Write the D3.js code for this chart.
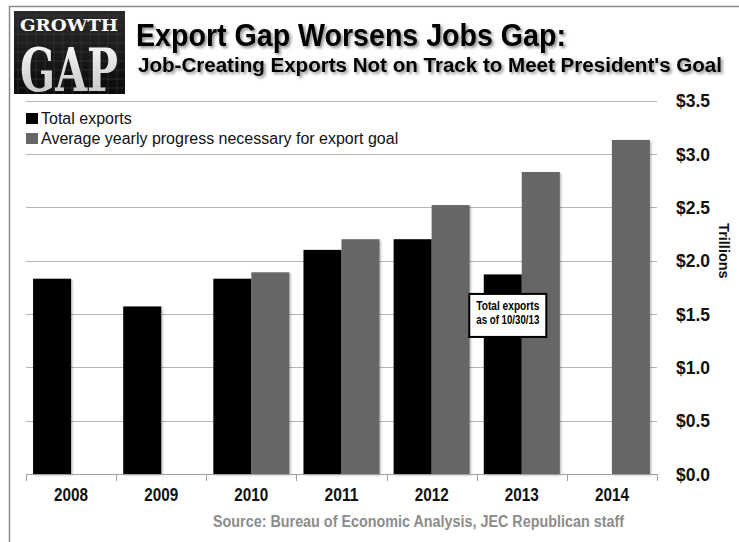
<!DOCTYPE html>
<html><head><meta charset="utf-8">
<script src="https://cdn.jsdelivr.net/npm/d3@7/dist/d3.min.js"></script>
<style>html,body{margin:0;padding:0;background:#fff}</style>
</head><body><svg id="c" width="739" height="542"></svg>
<script>
// ---- data ----
const years = ["2008","2009","2010","2011","2012","2013","2014"];
const totalExports = [1.83, 1.57, 1.83, 2.10, 2.20, 1.87, null];
const goalProgress = [null, null, 1.89, 2.20, 2.52, 2.83, 3.13];
const seriesNames = ["Total exports", "Average yearly progress necessary for export goal"];
const yTicks = [0, 0.5, 1, 1.5, 2, 2.5, 3, 3.5];
const yTickLabels = ["$0.0","$0.5","$1.0","$1.5","$2.0","$2.5","$3.0","$3.5"];
const yAxisTitle = "Trillions";
const titleText = "Export Gap Worsens Jobs Gap:";
const subtitleText = "Job-Creating Exports Not on Track to Meet President's Goal";
const sourceText = "Source: Bureau of Economic Analysis, JEC Republican staff";
const annotationLines = ["Total exports", "as of 10/30/13"];
const annotationYear = "2013";
const annotationValue = 1.5;
const logoTop = "GROWTH", logoBottom = "GAP";

// ---- setup ----
const W = 739, H = 542;
const svg = d3.select("#c");
const colors = {total: "#000000", goal: "#666666"};
const sans = "'Liberation Sans',Arial,sans-serif";

const defs = svg.append("defs");
const sh = defs.append("filter").attr("id","barShadow").attr("x","-10%").attr("y","-10%").attr("width","130%").attr("height","130%");
sh.append("feDropShadow").attr("dx",1.2).attr("dy",1.2).attr("stdDeviation",0.8).attr("flood-color","#000").attr("flood-opacity",0.3);
const tsh = defs.append("filter").attr("id","textShadow").attr("x","-5%").attr("y","-20%").attr("width","115%").attr("height","160%");
tsh.append("feDropShadow").attr("dx",2).attr("dy",2).attr("stdDeviation",1.5).attr("flood-color","#000").attr("flood-opacity",0.45);
const lg = defs.append("linearGradient").attr("id","logoBg").attr("x1",0).attr("y1",0).attr("x2",0).attr("y2",1);
lg.append("stop").attr("offset","0%").attr("stop-color","#2a2a2a");
lg.append("stop").attr("offset","100%").attr("stop-color","#0a0a0a");
const gg = defs.append("linearGradient").attr("id","gapGrad").attr("x1",0).attr("y1",0).attr("x2",0).attr("y2",1);
gg.append("stop").attr("offset","0%").attr("stop-color","#ffffff");
gg.append("stop").attr("offset","100%").attr("stop-color","#bdbdbd");

// outer frame
svg.append("line").attr("x1",9).attr("x2",W).attr("y1",6.5).attr("y2",6.5).attr("stroke","#8a8a8a").attr("stroke-width",1.5);
svg.append("line").attr("x1",9.5).attr("x2",9.5).attr("y1",6).attr("y2",H).attr("stroke","#8a8a8a").attr("stroke-width",1.5);

// logo
const logo = svg.append("g");
logo.append("rect").attr("x",14).attr("y",11).attr("width",111).attr("height",83).attr("fill","url(#logoBg)");
const gridX = d3.range(18, 125, 9), gridY = d3.range(16, 94, 9);
logo.selectAll(".gx").data(gridX).join("line").attr("x1",d=>d).attr("x2",d=>d).attr("y1",11).attr("y2",94).attr("stroke","#3a3a3a").attr("stroke-width",0.6);
logo.selectAll(".gy").data(gridY).join("line").attr("y1",d=>d).attr("y2",d=>d).attr("x1",14).attr("x2",125).attr("stroke","#3a3a3a").attr("stroke-width",0.6);
logo.append("text").attr("x",20).attr("y",30.5).text(logoTop)
  .attr("font-family","'DejaVu Serif',serif").attr("font-weight","bold").attr("font-size",17)
  .attr("fill","#fff").attr("textLength",98).attr("lengthAdjust","spacingAndGlyphs");
logo.append("text").attr("x",20).attr("y",91).text(logoBottom)
  .attr("font-family","'DejaVu Serif Condensed','DejaVu Serif',serif").attr("font-weight","bold").attr("font-size",59)
  .attr("fill","url(#gapGrad)").attr("textLength",98).attr("lengthAdjust","spacingAndGlyphs");

// titles
svg.append("text").attr("x",136).attr("y",46).text(titleText)
  .attr("font-family",sans).attr("font-weight","bold").attr("font-size",31).attr("fill","#000")
  .attr("textLength",430).attr("lengthAdjust","spacingAndGlyphs").attr("filter","url(#textShadow)");
svg.append("text").attr("x",138).attr("y",72).text(subtitleText)
  .attr("font-family",sans).attr("font-weight","bold").attr("font-size",19.5).attr("fill","#000")
  .attr("textLength",584).attr("lengthAdjust","spacingAndGlyphs").attr("filter","url(#textShadow)");

// scales
const plotL = 26, plotR = 657, plotB = 474, plotT = 100.5;
const x = d3.scaleBand().domain(years).range([plotL, plotR]).padding(0);
const xs = d3.scaleBand().domain(["total","goal"]).range([0, x.bandwidth()]).paddingInner(0).paddingOuter(0.186);
const y = d3.scaleLinear().domain([0, 3.5]).range([plotB, plotT]);

// gridlines
svg.append("g").selectAll("line").data(yTicks.filter(d=>d>0)).join("line")
  .attr("x1",plotL).attr("x2",plotR).attr("y1",d=>Math.round(y(d))+0.5).attr("y2",d=>Math.round(y(d))+0.5)
  .attr("stroke","#b5b5b5").attr("stroke-width",1);

// bars
const rows = years.map((yr,i)=>({year:yr, total:totalExports[i], goal:goalProgress[i]}));
const bars = [];
rows.forEach(r=>{ ["total","goal"].forEach(k=>{ if(r[k]!=null) bars.push({year:r.year, key:k, value:r[k]}); }); });
svg.append("g").attr("filter","url(#barShadow)").selectAll("rect").data(bars).join("rect")
  .attr("x",d=>x(d.year)+xs(d.key)).attr("width",xs.bandwidth())
  .attr("y",d=>y(d.value)).attr("height",d=>y(0)-y(d.value))
  .attr("fill",d=>colors[d.key]);

// x axis
svg.append("line").attr("x1",plotL).attr("x2",plotR).attr("y1",plotB+0.5).attr("y2",plotB+0.5).attr("stroke","#a0a0a0").attr("stroke-width",1);
const boundaries = years.map(d=>x(d)).concat([x(years[years.length-1])+x.bandwidth()]);
svg.append("g").selectAll("line").data(boundaries).join("line")
  .attr("x1",d=>Math.round(d)+0.5).attr("x2",d=>Math.round(d)+0.5).attr("y1",plotB).attr("y2",plotB+7)
  .attr("stroke","#a0a0a0").attr("stroke-width",1);
svg.append("g").selectAll("text").data(years).join("text")
  .attr("x",d=>x(d)+x.bandwidth()/2 - 17).attr("y",500.5)
  .attr("font-family",sans).attr("font-weight","bold").attr("font-size",18.5).attr("fill","#111")
  .attr("textLength",34).attr("lengthAdjust","spacingAndGlyphs")
  .text(d=>d);

// y axis labels (right)
svg.append("g").selectAll("text").data(yTicks).join("text")
  .attr("x",676).attr("y",d=>y(d)).attr("dy","0.36em")
  .attr("font-family",sans).attr("font-weight","bold").attr("font-size",18.5).attr("fill","#111")
  .attr("textLength",34).attr("lengthAdjust","spacingAndGlyphs")
  .text((d,i)=>yTickLabels[i]);
svg.append("text").attr("transform",`translate(719,${(y(2.5)+y(2))/2+17}) rotate(90)`)
  .attr("text-anchor","middle").attr("font-family",sans).attr("font-weight","bold").attr("font-size",14.5).attr("fill","#111")
  .text(yAxisTitle);

// legend
const leg = svg.append("g");
const legItems = [{name:seriesNames[0], key:"total", y:113}, {name:seriesNames[1], key:"goal", y:133}];
leg.selectAll("rect").data(legItems).join("rect").attr("x",26).attr("y",d=>d.y).attr("width",12).attr("height",11).attr("fill",d=>colors[d.key]);
leg.selectAll("text").data(legItems).join("text").attr("x",41).attr("y",d=>d.y+11).text(d=>d.name)
  .attr("font-family",sans).attr("font-size",16).attr("fill","#111");

// annotation
const ax = x(annotationYear) + xs("total") + xs.bandwidth()/2 + 5;
const ay = y(annotationValue) + 1.5;
const ann = svg.append("g");
ann.append("rect").attr("x",ax-38.5).attr("y",ay-21.5).attr("width",77).attr("height",43).attr("fill","#fff").attr("stroke","#000").attr("stroke-width",2);
ann.selectAll("text").data(annotationLines).join("text").attr("x",ax-31.5).attr("y",(d,i)=>ay-5.5+i*14)
  .attr("font-family",sans).attr("font-weight","bold").attr("font-size",12.5).attr("fill","#000")
  .attr("textLength",63).attr("lengthAdjust","spacingAndGlyphs")
  .text(d=>d);

// source
svg.append("text").attr("x",213).attr("y",527).text(sourceText)
  .attr("font-family",sans).attr("font-weight","bold").attr("font-size",16).attr("fill","#8c8c8c")
  .attr("textLength",411).attr("lengthAdjust","spacingAndGlyphs");
</script></body></html>
